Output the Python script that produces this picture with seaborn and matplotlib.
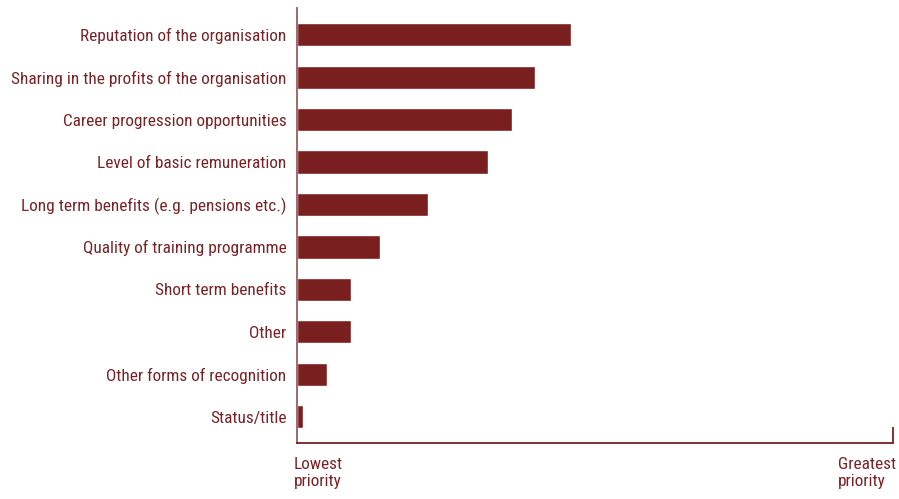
import matplotlib
matplotlib.use("Agg")
import matplotlib.pyplot as plt
import seaborn as sns
import pandas as pd

categories = [
    "Reputation of the organisation",
    "Sharing in the profits of the organisation",
    "Career progression opportunities",
    "Level of basic remuneration",
    "Long term benefits (e.g. pensions etc.)",
    "Quality of training programme",
    "Short term benefits",
    "Other",
    "Other forms of recognition",
    "Status/title",
]
scores = [46, 40, 36, 32, 22, 14, 9, 9, 5, 1]
axis_labels = ["Lowest\npriority", "Greatest\npriority"]

BAR = "#7a1f20"
TEXT = "#7a2226"
SPINE = "#9c5a5c"
FS = 12.45

sns.set_theme(style="white")
plt.rcParams["font.family"] = ["Roboto Condensed", "Archivo Narrow", "DejaVu Sans"]

df = pd.DataFrame({"category": categories, "score": scores})

fig = plt.figure(figsize=(8.99, 4.99), dpi=100)
ax = fig.add_axes([297 / 899, 1 - 443 / 499, (893 - 297) / 899, (443 - 8) / 499])

sns.barplot(data=df, x="score", y="category", orient="h", color=BAR,
            saturation=1, width=0.55, ax=ax)

ax.set_xlim(0, 100)
ax.set_ylim(9.62, -0.63)
ax.set_xlabel("")
ax.set_ylabel("")
ax.set_xticks([])
ax.tick_params(axis="y", length=0, pad=7.5, labelsize=FS, labelcolor=TEXT)
for lbl in ax.get_yticklabels():
    lbl.set_y(lbl.get_position()[1])
    lbl.set_va("center_baseline")

for side in ("top", "right"):
    ax.spines[side].set_visible(False)
for side in ("left", "bottom"):
    ax.spines[side].set_color(SPINE)
    ax.spines[side].set_linewidth(1.3)
ax.spines["bottom"].set_color(BAR)

# end marker at the top of the priority scale
ax.plot([100, 100], [9.62, 9.25], color=BAR, lw=1.3, clip_on=False,
        solid_capstyle="butt")

ax.text(-0.006, -0.033, axis_labels[0], transform=ax.transAxes, ha="left", va="top",
        fontsize=FS, color=TEXT, linespacing=1.12)
ax.text((838 - 297) / (893 - 297), -0.033, axis_labels[1], transform=ax.transAxes,
        ha="left", va="top", fontsize=FS, color=TEXT, linespacing=1.12)

fig.savefig("out.png", dpi=100, facecolor="white")
